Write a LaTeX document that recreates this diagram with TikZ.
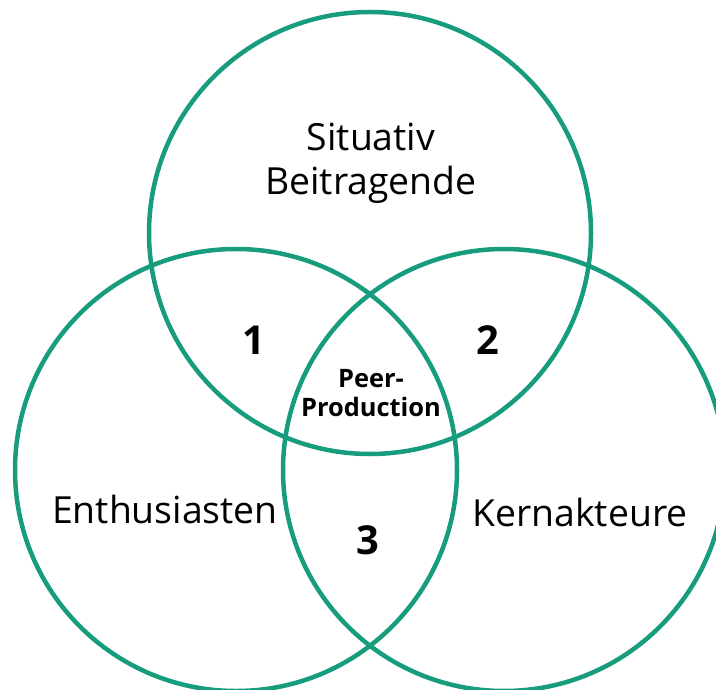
\documentclass[tikz,border=0pt]{standalone}
\usepackage{fontspec}
\setmainfont{Open Sans}
\usepackage{tikz}

\definecolor{venngreen}{RGB}{23,156,125}

\tikzset{
    set/.style={circle, draw=venngreen, line width=4.5bp, minimum size=442bp, inner sep=0pt},
    grouplabel/.style={font=\fontsize{37.5}{44}\selectfont, align=center, inner sep=0pt},
    areanum/.style={font=\fontsize{40}{44}\selectfont\bfseries, inner sep=0pt},
    corelabel/.style={font=\fontsize{25.5}{30}\selectfont\bfseries, align=center, inner sep=0pt}
}

\begin{document}
\begin{tikzpicture}[x=1bp,y=-1bp]
    \useasboundingbox (0,0) rectangle (716,690);

    % the three sets
    \node[set] (sit) at (370,233) {};
    \node[set] (ent) at (236,470) {};
    \node[set] (kern) at (504,470) {};

    % group names
    \node[grouplabel] (sitlbl) at (371,163) {Situativ\\Beitragende};
    \node[grouplabel] (entlbl) at (165,509) {Enthusiasten};
    \node[grouplabel] (kernlbl) at (580,512) {Kernakteure};

    % overlaps
    \node[areanum] (one) at (254,340) {1};
    \node[areanum] (two) at (488,340) {2};
    \node[areanum] (three) at (368,540) {3};
    \node[corelabel] (core) at (371,393) {Peer-\\Production};
\end{tikzpicture}
\end{document}
